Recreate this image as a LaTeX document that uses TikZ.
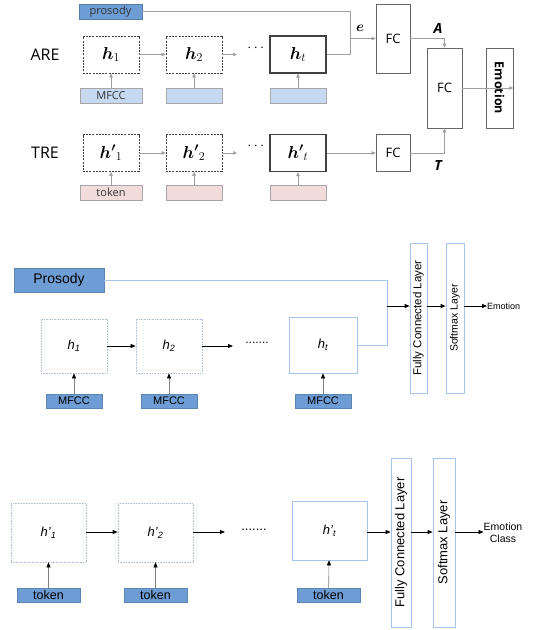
\documentclass[tikz,border=0pt]{standalone}
\usepackage{amsmath,bm}
\usepackage{fontspec}
\setmainfont{Liberation Sans}
\newfontfamily\opensans{Open Sans}
\usetikzlibrary{arrows.meta,positioning}

\definecolor{prosblue}{HTML}{6D9DD4}
\definecolor{mfccblue}{HTML}{C6D9F1}
\definecolor{tokenpink}{HTML}{F2DCDB}
\definecolor{edgeblue}{HTML}{A9C4EB}
\definecolor{dotgray}{HTML}{AFC0D8}

\tikzset{
  grayline/.style={draw=gray!75, line width=0.6pt},
  grayarrow/.style={grayline, -{Triangle[length=4pt,width=3.5pt]}},
  blackarrow/.style={draw=black, line width=0.8pt, -{Triangle[length=5pt,width=4pt]}},
  feedarrow/.style={draw=gray, line width=0.6pt, -{Triangle[length=5pt,width=4pt,black]}},
  blueline/.style={draw=edgeblue, line width=0.6pt},
  % top panel
  topcell/.style={draw=black!75, minimum width=56pt, minimum height=37pt, inner sep=0pt, font=\fontsize{18}{20}\selectfont},
  hidden/.style={topcell, dash pattern=on 2pt off 1.2pt, line width=0.7pt},
  lasthidden/.style={topcell, line width=1.2pt},
  topinput/.style={draw=gray!70, minimum width=56pt, minimum height=15pt, inner sep=0pt, font=\opensans\fontsize{11}{12}\selectfont, text=black!80},
  fcbox/.style={draw=black!60, line width=0.6pt, inner sep=0pt, font=\opensans\fontsize{13}{14}\selectfont},
  rowlabel/.style={font=\opensans\fontsize{16}{18}\selectfont},
  vec/.style={font=\opensans\bfseries\itshape\fontsize{14}{16}\selectfont},
  % lower panels
  cell/.style={draw=dotgray, densely dotted, line width=0.6pt, inner sep=0pt},
  lastcell/.style={cell, solid, draw=edgeblue},
  feat/.style={fill=prosblue, draw=prosblue!85!black, line width=0.4pt, inner sep=0pt},
  layer/.style={draw=edgeblue, line width=0.8pt, inner sep=0pt, rotate=90}
}

\begin{document}
\begin{tikzpicture}[x=1pt,y=-1pt]
\useasboundingbox (0,0) rectangle (547,630);

% ---------- ARE / TRE ----------
\node[rowlabel] (are) at (45,55) {ARE};
\node[rowlabel] (tre) at (45,153) {TRE};

\node[topinput, fill=prosblue, draw=prosblue!80!black, minimum width=63pt] (prosody) at (110.5,11.5) {prosody};

\node[hidden]     (h1) at (111,54.5) {$\boldsymbol{h}_1$};
\node[hidden]     (h2) at (194,54.5) {$\boldsymbol{h}_2$};
\node[lasthidden] (ht) at (298,54.5) {$\boldsymbol{h}_t$};
\node[font=\fontsize{14}{16}\selectfont] (adots) at (257,48) {$\cdots$};
\coordinate (a2end) at (237,54.5);

\node[topinput, fill=mfccblue, minimum width=62pt] (m1) at (111,95.5) {MFCC};
\node[topinput, fill=mfccblue] (m2) at (194,95.5) {};
\node[topinput, fill=mfccblue] (m3) at (298,95.5) {};

\node[hidden]     (g1) at (111,153) {${\boldsymbol{h'}}_1$};
\node[hidden]     (g2) at (194,153) {${\boldsymbol{h'}}_2$};
\node[lasthidden] (gt) at (298,153) {${\boldsymbol{h'}}_t$};
\node[font=\fontsize{14}{16}\selectfont] (tdots) at (257,146) {$\cdots$};
\coordinate (t2end) at (237,153);

\node[topinput, fill=tokenpink, minimum width=62pt] (k1) at (111,192.5) {token};
\node[topinput, fill=tokenpink] (k2) at (194,192.5) {};
\node[topinput, fill=tokenpink] (k3) at (298,192.5) {};

\node[fcbox, minimum width=34pt, minimum height=69pt] (fc1) at (393,38.5) {FC};
\node[fcbox, minimum width=34pt, minimum height=37pt] (fc2) at (393,153) {FC};
\node[fcbox, minimum width=35pt, minimum height=80pt] (fc3) at (444.5,88) {FC};
\node[fcbox, minimum width=80pt, minimum height=27pt, rotate=-90,
      font=\opensans\bfseries\fontsize{12.5}{14}\selectfont] (emo) at (499.5,88) {Emotion};

\node[vec, font=\bfseries\fontsize{15}{16}\selectfont] (elab) at (360,28) {$\boldsymbol{e}$};
\node[vec] (alab) at (438,28) {A};
\node[vec] (tlab) at (438,165) {T};

\coordinate (ej) at (350,38.5);
\draw[grayarrow] (h1) -- (h2);
\draw[grayarrow] (h2) -- (a2end);
\draw[grayarrow] (g1) -- (g2);
\draw[grayarrow] (g2) -- (t2end);
\foreach \i/\j in {m1/h1, m2/h2, m3/ht, k1/g1, k2/g2, k3/gt}
  \draw[grayarrow] (\i) -- (\j);
\draw[grayline] (prosody.east) -| (ej);
\draw[grayline] (ht.east) -| (ej);
\draw[grayarrow] (ej) -- (fc1.west);
\draw[grayarrow] (gt) -- (fc2);
\draw[grayarrow] (fc1.east) -| (fc3.north);
\draw[grayarrow] (fc2.east) -| (fc3.south);
\draw[grayarrow] (fc3) -- (emo.north);

% ---------- acoustic model ----------
\node[feat, minimum width=90pt, minimum height=24pt, font=\fontsize{14}{16}\selectfont] (pros) at (59,280) {Prosody};

\node[cell, minimum width=66pt, minimum height=54pt, font=\fontsize{13}{14}\selectfont] (p1) at (74,346) {\itshape h\textsubscript{1}};
\node[cell, minimum width=66pt, minimum height=54pt, font=\fontsize{13}{14}\selectfont] (p2) at (169,346) {\itshape h\textsubscript{2}};
\node[lastcell, minimum width=68pt, minimum height=56pt, font=\fontsize{13}{14}\selectfont] (pt) at (323,345) {\itshape h\textsubscript{t}};
\node[font=\fontsize{12}{14}\selectfont] (pdots) at (257,343) {.......};
\coordinate (p2end) at (233,346);

\node[feat, minimum width=56pt, minimum height=14pt, font=\fontsize{11}{12}\selectfont] (f1) at (74,401) {MFCC};
\node[feat, minimum width=56pt, minimum height=14pt, font=\fontsize{11}{12}\selectfont] (f2) at (169,401) {MFCC};
\node[feat, minimum width=56pt, minimum height=14pt, font=\fontsize{11}{12}\selectfont] (f3) at (323,401) {MFCC};

\node[layer, minimum width=150pt, minimum height=17pt, font=\fontsize{11.5}{12}\selectfont] (pfc) at (418.5,318) {Fully Connected Layer};
\node[layer, minimum width=150pt, minimum height=18pt, font=\fontsize{10.5}{12}\selectfont] (psm) at (455,318) {Softmax Layer};
\node[anchor=west, inner sep=0pt, font=\fontsize{9}{10}\selectfont] (pemo) at (487,306) {Emotion};

\coordinate (pj) at (387,306);
\draw[blackarrow] (p1) -- (p2);
\draw[blackarrow] (p2) -- (p2end);
\foreach \i/\j in {f1/p1, f2/p2, f3/pt}
  \draw[feedarrow] (\i) -- (\j);
\draw[blueline] (pros.east) -| (pt.east -| pj) -- (pt.east);
\draw[blackarrow] (pj) -- (pj -| pfc.north);
\draw[blackarrow] (pj -| pfc.south) -- (pj -| psm.north);
\draw[blackarrow] (pj -| psm.south) -- (pemo.west);

% ---------- text model ----------
\node[cell, minimum width=75pt, minimum height=59pt, font=\fontsize{13}{14}\selectfont] (q1) at (48.5,532.5) {\itshape h'\textsubscript{1}};
\node[cell, minimum width=75pt, minimum height=59pt, font=\fontsize{13}{14}\selectfont] (q2) at (155.5,532.5) {\itshape h'\textsubscript{2}};
\node[lastcell, minimum width=75pt, minimum height=59pt, font=\fontsize{13}{14}\selectfont] (qt) at (329.5,530.5) {\itshape h'\textsubscript{t}};
\node[font=\fontsize{13}{14}\selectfont] (qdots) at (254,530) {.......};
\coordinate (q2end) at (225,532);

\node[feat, minimum width=63pt, minimum height=14pt, font=\fontsize{12.5}{14}\selectfont] (w1) at (48.5,595) {token};
\node[feat, minimum width=63pt, minimum height=14pt, font=\fontsize{12.5}{14}\selectfont] (w2) at (155.5,595) {token};
\node[feat, minimum width=63pt, minimum height=14pt, font=\fontsize{12.5}{14}\selectfont] (w3) at (328.5,595) {token};

\node[layer, minimum width=169pt, minimum height=20pt, font=\fontsize{13}{14}\selectfont] (qfc) at (401,542.5) {Fully Connected Layer};
\node[layer, minimum width=169pt, minimum height=22pt, font=\fontsize{13}{14}\selectfont] (qsm) at (444,542.5) {Softmax Layer};
\node[align=center, inner sep=0pt, font=\fontsize{10.5}{12}\selectfont] (qemo) at (503,533) {Emotion\\Class};

\coordinate (qj) at (367,532);
\draw[blackarrow] (q1.east |- qj) -- (q2.west |- qj);
\draw[blackarrow] (q2.east |- qj) -- (q2end);
\foreach \i/\j in {w1/q1, w2/q2, w3/qt}
  \draw[feedarrow] (\i) -- (\j);
\draw[blackarrow] (qj) -- (qj -| qfc.north);
\draw[blackarrow] (qj -| qfc.south) -- (qj -| qsm.north);
\draw[blackarrow] (qj -| qsm.south) -- (qemo.west |- qj);
\end{tikzpicture}
\end{document}
